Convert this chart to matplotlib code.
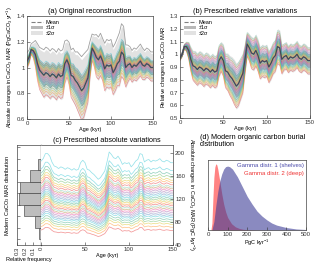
import numpy as np
import matplotlib
matplotlib.use("Agg")
import matplotlib.pyplot as plt

plt.rcParams['font.family'] = ['Liberation Sans', 'DejaVu Sans']
plt.rcParams['mathtext.fontset'] = 'custom'
plt.rcParams['mathtext.rm'] = 'Liberation Sans'
plt.rcParams['mathtext.it'] = 'Liberation Sans:italic'

ages = [0, 2.5, 5, 7.5, 10, 12.5, 15, 17.5, 20, 22.5, 25, 27.5, 30, 32.5, 35, 37.5, 40, 42.5,
        45, 47.5, 50, 52.5, 55, 57.5, 60, 62.5, 65, 67.5, 70, 72.5, 75, 77.5, 80, 82.5, 85,
        87.5, 90, 92.5, 95, 97.5, 100, 102.5, 105, 107.5, 110, 112.5, 115, 117.5, 120, 122.5,
        125, 127.5, 130, 132.5, 135, 137.5, 140, 142.5, 145, 147.5, 150]

mean_a = [1.05, 1.08, 1.14, 1.13, 1.10, 1.03, 0.98, 0.96, 0.94, 0.96, 0.95, 0.93, 0.95, 0.94,
          0.92, 0.95, 0.93, 0.94, 1.03, 1.06, 1.02, 0.94, 0.93, 0.90, 0.88, 0.85, 0.82, 0.84,
          0.88, 0.92, 1.05, 1.15, 1.12, 1.08, 1.06, 1.09, 1.05, 0.99, 1.02, 1.01, 1.02, 0.96,
          0.99, 1.03, 1.05, 1.12, 1.10, 1.00, 1.02, 1.03, 1.00, 1.02, 1.01, 1.03, 1.05, 1.02,
          1.01, 1.03, 1.02, 1.00, 1.00]
sigma_a = [0.03, 0.025, 0.02, 0.03, 0.05, 0.07, 0.08, 0.085, 0.09, 0.09, 0.09, 0.09, 0.09, 0.09,
           0.09, 0.09, 0.09, 0.09, 0.08, 0.07, 0.08, 0.09, 0.10, 0.10, 0.11, 0.115, 0.12, 0.12,
           0.11, 0.10, 0.07, 0.05, 0.06, 0.08, 0.08, 0.08, 0.08, 0.09, 0.09, 0.09, 0.09, 0.09,
           0.09, 0.09, 0.10, 0.10, 0.10, 0.08, 0.07, 0.06, 0.06, 0.06, 0.06, 0.06, 0.06, 0.06,
           0.055, 0.055, 0.055, 0.055, 0.055]
z_a = [-1.9, -1.6, -1.4, -1.2, -1.0, -0.85, -0.7, -0.55, -0.4, -0.25, -0.1, 0.05, 0.2, 0.35,
       0.5, 0.65, 0.8, 1.0]
z_a_outlier = 2.2

mean_b = [0.97, 1.00, 1.06, 1.06, 1.03, 0.96, 0.91, 0.90, 0.88, 0.90, 0.89, 0.87, 0.89, 0.88,
          0.86, 0.88, 0.86, 0.87, 0.95, 0.98, 0.95, 0.87, 0.86, 0.83, 0.81, 0.78, 0.75, 0.77,
          0.81, 0.85, 0.96, 1.08, 1.05, 1.01, 1.00, 1.03, 0.99, 0.93, 0.95, 0.94, 0.95, 0.90,
          0.93, 0.97, 0.99, 1.06, 1.05, 0.96, 0.98, 0.99, 0.96, 0.98, 0.97, 0.98, 1.00, 0.97,
          0.96, 0.98, 0.97, 0.95, 0.95]
sigma_b = [0.01, 0.01, 0.01, 0.02, 0.035, 0.05, 0.06, 0.065, 0.065, 0.065, 0.065, 0.065, 0.065,
           0.065, 0.065, 0.065, 0.065, 0.065, 0.065, 0.06, 0.065, 0.07, 0.075, 0.08, 0.085, 0.09,
           0.09, 0.09, 0.085, 0.08, 0.06, 0.05, 0.055, 0.065, 0.065, 0.065, 0.065, 0.065, 0.065,
           0.065, 0.065, 0.065, 0.065, 0.065, 0.065, 0.07, 0.07, 0.06, 0.055, 0.055, 0.055, 0.055,
           0.055, 0.055, 0.055, 0.055, 0.055, 0.055, 0.055, 0.055, 0.055]
z_b = [-1.9, -1.7, -1.5, -1.35, -1.2, -1.05, -0.9, -0.75, -0.6, -0.45, -0.3, -0.15, 0.0, 0.15,
       0.3, 0.45, 0.6, 0.75, 0.9, 1.05, 1.2, 1.4, 1.6, 1.8]

rel_c = [1.0, 1.023, 1.07, 1.07, 1.046, 0.99, 0.954, 0.946, 0.93, 0.946, 0.938, 0.923, 0.938,
         0.93, 0.915, 0.93, 0.915, 0.923, 0.985, 1.008, 0.985, 0.923, 0.915, 0.892, 0.876,
         0.853, 0.83, 0.845, 0.876, 0.907, 0.992, 1.085, 1.062, 1.031, 1.023, 1.046, 1.015,
         0.969, 0.985, 0.977, 0.985, 0.946, 0.969, 1.0, 1.015, 1.07, 1.062, 0.992, 1.008, 1.015,
         0.992, 1.008, 1.0, 1.008, 1.023, 1.0, 0.992, 1.008, 1.0, 0.985, 0.985]
modern_c = [66, 72, 77, 81, 85, 89, 92, 95, 98, 101, 104, 107, 110, 113, 116, 119, 122, 125,
            128, 131, 134, 137, 140, 143, 147, 151, 155, 160, 165, 172, 186]

hist_edges = [50, 70, 90, 110, 130, 150, 170, 190]
hist_freq = [0.03, 0.08, 0.21, 0.28, 0.26, 0.135, 0.04]

g1_x = [20, 30, 40, 50, 60, 70, 80, 90, 100, 110, 125, 150, 175, 200, 225, 250, 275, 300, 325,
        350, 400, 450, 500]
g1_y = [0, 0.12, 0.35, 0.55, 0.70, 0.80, 0.87, 0.905, 0.913, 0.905, 0.87, 0.76, 0.62, 0.48,
        0.37, 0.27, 0.20, 0.145, 0.10, 0.07, 0.035, 0.015, 0.007]
g2_x = [15, 20, 25, 30, 35, 40, 45, 50, 60, 70, 80, 90, 100, 120, 140, 160, 180, 200, 250, 300]
g2_y = [0, 0.10, 0.45, 0.75, 0.90, 0.947, 0.93, 0.87, 0.70, 0.52, 0.37, 0.26, 0.18, 0.09,
        0.045, 0.022, 0.01, 0.005, 0.001, 0]

palette = ['#e41a1c', '#ff7f00', '#d4b800', '#4daf4a', '#1b9e77', '#17becf', '#377eb8',
           '#7570b3', '#984ea3', '#e7298a', '#a6761d', '#66c2a5']

W, H = 320, 269
fig = plt.figure(figsize=(W / 100, H / 100), dpi=100)

def rect(l, r, t, b):
    return [l / W, 1 - b / H, (r - l) / W, (b - t) / H]

TS = 4.3
LS = 4.0
TT = 5.2

def style(ax):
    for s in ax.spines.values():
        s.set_linewidth(0.5)
        s.set_color('#444444')
    ax.tick_params(direction='in', length=2, width=0.4, labelsize=TS, pad=1.5, colors='#333333')

t = np.array(ages)

def ens_panel(ax, mean, sig, zs, outlier=None):
    mean = np.array(mean); sig = np.array(sig)
    l2 = ax.fill_between(t, mean - 2 * sig, mean + 2 * sig, color='#e2e2e2', lw=0)
    l1 = ax.fill_between(t, mean - sig, mean + sig, color='#b8b8b8', lw=0)
    for i, z in enumerate(zs):
        ax.plot(t, mean + z * sig, color=palette[i % len(palette)], lw=0.5, alpha=0.4)
    if outlier is not None:
        ax.plot(t, mean + outlier * sig, color='#a0a0a0', lw=0.6)
    ax.plot(t, mean, color='#3f4a5c', lw=0.9)
    hm, = ax.plot([], [], color='#808080', lw=0.8, ls='--')
    ax.legend([hm, l1, l2], ['Mean', '±1σ', '±2σ'], loc='upper left', fontsize=4.0,
              frameon=False, handlelength=2.2, handleheight=0.7, labelspacing=0.1,
              borderaxespad=0.3, handletextpad=0.5)
    ax.set_xlim(0, 150)
    ax.set_xticks([0, 50, 100, 150])
    ax.set_xlabel('Age (kyr)', fontsize=LS, labelpad=0.5)

# (a)
axa = fig.add_axes(rect(27, 153, 16, 119))
style(axa)
ens_panel(axa, mean_a, sigma_a, z_a, outlier=z_a_outlier)
axa.set_ylim(0.6, 1.4)
axa.set_yticks([0.6, 0.8, 1.0, 1.2, 1.4])
axa.set_yticklabels(['0.6', '0.8', '1', '1.2', '1.4'])
axa.set_ylabel('Absolute changes in CaCO$_3$ MAR (PgCaCO$_3$ yr$^{-1}$)', fontsize=3.9, labelpad=1)
axa.set_title('(a) Original reconstruction', fontsize=TT, pad=2)

# (b)
axb = fig.add_axes(rect(180, 310, 16, 118))
style(axb)
ens_panel(axb, mean_b, sigma_b, z_b)
axb.set_ylim(0.5, 1.3)
axb.set_yticks([0.5, 0.6, 0.7, 0.8, 0.9, 1.0, 1.1, 1.2, 1.3])
axb.set_yticklabels(['0.5', '0.6', '0.7', '0.8', '0.9', '1', '1.1', '1.2', '1.3'])
axb.set_ylabel('Relative changes in CaCO$_3$ MAR', fontsize=LS, labelpad=1)
axb.set_title('(b) Prescribed relative variations', fontsize=TT, pad=2)

# (c) histogram
axh = fig.add_axes(rect(17, 41, 145, 245))
style(axh)
edges = np.array(hist_edges)
axh.barh(edges[:-1], hist_freq, height=np.diff(edges), align='edge', color='#bdbdbd',
         edgecolor='#333333', linewidth=0.4)
axh.set_xlim(0.3, 0)
axh.set_ylim(40, 214)
axh.set_xticks([0.3, 0.2, 0.1, 0])
axh.set_xticklabels(['0.3', '0.2', '0.1', '0'], rotation=90)
axh.set_yticks([50, 70, 90, 110, 130, 150, 170, 190, 210])
axh.set_yticklabels([])
axh.set_ylabel('Modern CaCO$_3$ MAR distribution', fontsize=LS, labelpad=2)
axh.set_xlabel('Relative frequency', fontsize=LS, labelpad=1)
axh.spines['right'].set_linewidth(0.9)
axh.spines['right'].set_color('#222222')

# (c) main
axc = fig.add_axes(rect(41, 173, 145, 245))
style(axc)
rc = np.array(rel_c)
for i, m in enumerate(modern_c):
    col = '#17becf' if i == len(modern_c) - 1 else palette[i % len(palette)]
    axc.plot(t, m * rc, color=col, lw=0.55, alpha=0.45)
axc.set_xlim(0, 150)
axc.set_ylim(40, 214)
axc.set_xticks([0, 50, 100, 150])
axc.set_xticklabels(['', '50', '100', '150'])
axc.set_xlabel('Age (kyr)', fontsize=LS, labelpad=0.5)
axc.yaxis.tick_right()
axc.yaxis.set_label_position('right')
axc.set_yticks([40, 80, 120, 160, 200])
axc.set_ylabel('Absolute changes in CaCO$_3$ MAR (PgC kyr$^{-1}$)', fontsize=LS,
               rotation=270, labelpad=8)
axc.spines['left'].set_visible(False)
axc.set_title('(c) Prescribed absolute variations', fontsize=TT, pad=2)

# (d)
axd = fig.add_axes(rect(208, 306, 160, 230))
style(axd)
axd.fill_between(g2_x, 0, g2_y, color='#ff3030', alpha=0.6, lw=0)
axd.fill_between(g1_x, 0, g1_y, color='#3c3c96', alpha=0.6, lw=0)
axd.set_xlim(0, 500)
axd.set_ylim(0, 1.0)
axd.set_xticks([0, 100, 200, 300, 400, 500])
axd.set_yticks([])
axd.set_xlabel('PgC kyr$^{-1}$', fontsize=LS, labelpad=0.5)
axd.text(0.98, 0.96, 'Gamma distr. 1 (shelves)', transform=axd.transAxes, ha='right',
         va='top', fontsize=4.3, color='#4a4aaa')
axd.text(0.98, 0.85, 'Gamma distr. 2 (deep)', transform=axd.transAxes, ha='right',
         va='top', fontsize=4.3, color='#ee3333')
fig.text(200 / W, 1 - 134 / H, '(d) Modern organic carbon burial\ndistribution', fontsize=TT,
         ha='left', va='top', linespacing=1.1)

fig.savefig('out.png', dpi=100)
